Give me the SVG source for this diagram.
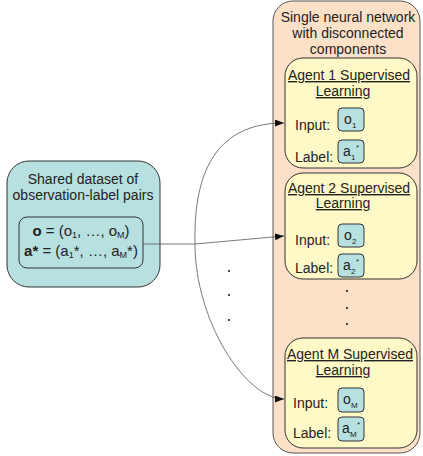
<svg xmlns="http://www.w3.org/2000/svg" width="423" height="456" viewBox="0 0 423 456">
<defs>
<style>
text{font-family:"Liberation Sans",Arial,sans-serif;font-size:14px;fill:#222}
.ttl{text-anchor:middle}
.u{text-decoration:underline}
.f{font-size:15px;text-anchor:middle}
.blue{fill:#b7e1e1;stroke:#333;stroke-width:1}
.agent{fill:#fff9c8;stroke:#333;stroke-width:1}
.panel{fill:#fde0c8;stroke:#555;stroke-width:1}
.sm{font-size:8px}
.fs{font-size:9px}
.conn{fill:none;stroke:#555;stroke-width:0.8}
.dot{fill:#111}
</style>
<marker id="ah" markerWidth="9" markerHeight="7" refX="9" refY="3.5" orient="auto" markerUnits="userSpaceOnUse">
<path d="M0,0 L9,3.5 L0,7 z" fill="#111"/>
</marker>
</defs>

<g id="network">
<rect class="panel" x="273" y="1" width="147" height="452" rx="20"/>
<text class="ttl" x="348" y="22">Single neural network</text>
<text class="ttl" x="348" y="38">with disconnected</text>
<text class="ttl" x="348" y="54">components</text>
<circle class="dot" cx="347" cy="291" r="1"/>
<circle class="dot" cx="347" cy="308" r="1"/>
<circle class="dot" cx="347" cy="324" r="1"/>
</g>

<g id="dataset">
<rect class="blue" x="7" y="161" width="153" height="126" rx="22"/>
<text class="ttl" x="83" y="184">Shared dataset of</text>
<text class="ttl" x="83" y="200">observation-label pairs</text>
<rect class="blue" x="19" y="217" width="124" height="51" rx="8"/>
<text class="f" x="81" y="236"><tspan font-weight="bold">o</tspan> = (o<tspan class="fs" dy="2">1</tspan><tspan dy="-2">, …, o</tspan><tspan class="fs" dy="2">M</tspan><tspan dy="-2">)</tspan></text>
<text class="f" x="81" y="256"><tspan font-weight="bold">a*</tspan> = (a<tspan class="fs" dy="2">1</tspan><tspan dy="-2">*, …, a</tspan><tspan class="fs" dy="2">M</tspan><tspan dy="-2">*)</tspan></text>
</g>

<g id="agent1">
<rect class="agent" x="285" y="58" width="132" height="110" rx="18"/>
<text class="ttl u" x="349" y="80">Agent 1 Supervised</text>
<text class="ttl u" x="343" y="96">Learning</text>
<text x="295" y="130">Input:</text>
<rect class="blue" x="338" y="108" width="26" height="23" rx="4"/>
<text x="344" y="124">o</text><text class="sm" x="352" y="128">1</text>
<text x="295" y="162">Label:</text>
<rect class="blue" x="338" y="140" width="26" height="23" rx="4"/>
<text x="343" y="156">a</text><text class="sm" x="351" y="160">1</text><text class="sm" x="356" y="150">*</text>
</g>

<g id="agent2">
<rect class="agent" x="285" y="173" width="132" height="106" rx="18"/>
<text class="ttl u" x="349" y="193">Agent 2 Supervised</text>
<text class="ttl u" x="343" y="208">Learning</text>
<text x="295" y="245">Input:</text>
<rect class="blue" x="338" y="224" width="26" height="23" rx="4"/>
<text x="344" y="240">o</text><text class="sm" x="352" y="244">2</text>
<text x="295" y="273">Label:</text>
<rect class="blue" x="338" y="254" width="26" height="23" rx="4"/>
<text x="343" y="270">a</text><text class="sm" x="351" y="274">2</text><text class="sm" x="356" y="264">*</text>
</g>

<g id="agentM">
<rect class="agent" x="285" y="338" width="132" height="110" rx="18"/>
<text class="ttl u" x="350" y="359">Agent M Supervised</text>
<text class="ttl u" x="343" y="375">Learning</text>
<text x="293" y="408">Input:</text>
<rect class="blue" x="338" y="388" width="26" height="24" rx="4"/>
<text x="343" y="404">o</text><text class="sm" x="351" y="408">M</text>
<text x="293" y="438">Label:</text>
<rect class="blue" x="338" y="417" width="26" height="24" rx="4"/>
<text x="342" y="433">a</text><text class="sm" x="350" y="437">M</text><text class="sm" x="357" y="427">*</text>
</g>

<g id="connectors">
<path class="conn" d="M143,244 L195,244 L284,236" marker-end="url(#ah)"/>
<path class="conn" d="M195,244 C193,160 225,123 284,123" marker-end="url(#ah)"/>
<path class="conn" d="M195,244 C195,320 245,399 284,399" marker-end="url(#ah)"/>
<circle class="dot" cx="229" cy="271" r="1"/>
<circle class="dot" cx="229" cy="295" r="1"/>
<circle class="dot" cx="229" cy="320" r="1"/>
</g>
</svg>
